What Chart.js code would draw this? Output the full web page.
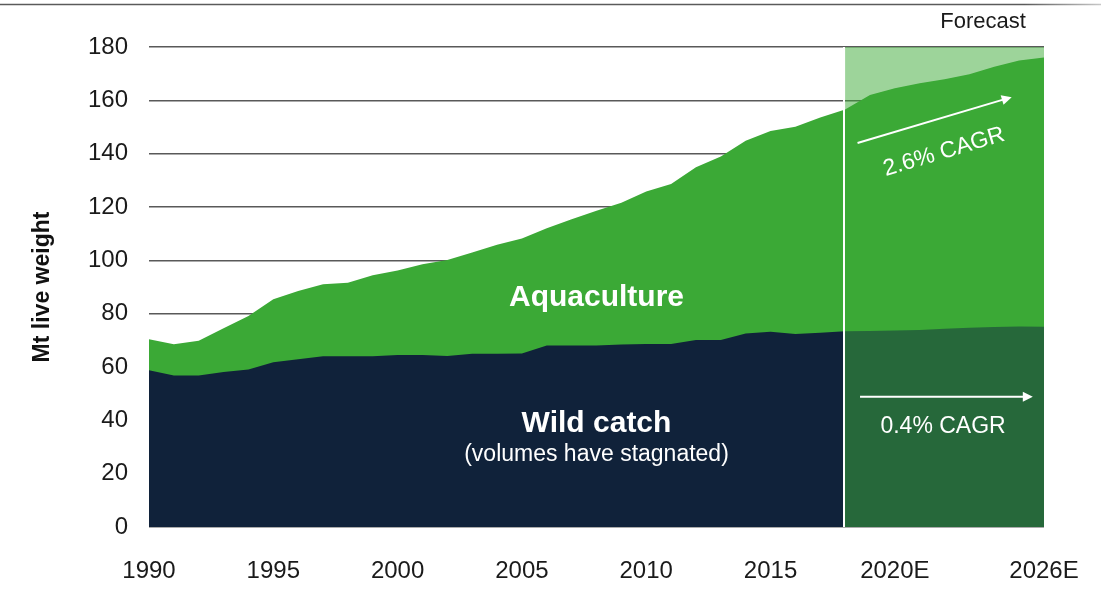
<!DOCTYPE html>
<html>
<head>
<meta charset="utf-8">
<script src="https://cdn.jsdelivr.net/npm/chart.js@4.4.1/dist/chart.umd.min.js"></script>
<style>
  html, body { margin: 0; padding: 0; background: #fff; }
</style>
</head>
<body>
<canvas id="fishChart" width="1101" height="591"></canvas>
<script>
// Global fish supply, Mt live weight
const years = [
  1990, 1991, 1992, 1993, 1994, 1995, 1996, 1997, 1998, 1999,
  2000, 2001, 2002, 2003, 2004, 2005, 2006, 2007, 2008, 2009,
  2010, 2011, 2012, 2013, 2014, 2015, 2016, 2017, 2018, 2019,
  2020, 2021, 2022, 2023, 2024, 2025, 2026
];
const wildCatch = [
  58.8, 56.8, 56.8, 58.1, 59.1, 61.8, 62.9, 64.0, 64.0, 64.0,
  64.5, 64.5, 64.1, 65.0, 65.0, 65.1, 68.1, 68.1, 68.1, 68.4,
  68.6, 68.6, 70.1, 70.1, 72.6, 73.2, 72.4, 72.8, 73.4, 73.5,
  73.7, 73.9, 74.3, 74.7, 75.0, 75.2, 75.1
];
const aquaculture = [
  11.6, 11.7, 13.0, 16.4, 20.0, 23.6, 25.6, 27.0, 27.6, 30.4,
  31.7, 34.0, 36.0, 37.9, 40.8, 43.1, 43.9, 47.3, 50.5, 53.2,
  57.2, 60.0, 64.8, 68.8, 72.2, 75.3, 77.7, 80.8, 83.2, 88.5,
  90.8, 92.5, 93.6, 95.1, 97.6, 99.7, 101.0
];
const forecastStart = 2018;
const xTickValues = [1990, 1995, 2000, 2005, 2010, 2015, 2020, 2026];
const xTickLabels = ['1990', '1995', '2000', '2005', '2010', '2015', '2020E', '2026E'];
const yMin = 0, yMax = 180, yStep = 20;

const FONT = "'Liberation Sans', Arial, sans-serif";
const NAVY = '#10223a';
const GREEN = '#3ba936';
const DARK_GREEN = '#26683a';
const PALE_GREEN = 'rgba(59, 169, 54, 0.5)';

const totals = wildCatch.map((w, i) => +(w + aquaculture[i]).toFixed(1));
const points = (arr, keep) => years.map((yr, i) => ({ x: yr, y: arr[i] })).filter(p => keep(p.x));
const isHist = yr => yr <= forecastStart;
const isForecast = yr => yr >= forecastStart;

const area = (label, data, color, order) => ({
  label, data, order,
  backgroundColor: color,
  borderWidth: 0,
  pointRadius: 0,
  tension: 0,
  fill: 'origin'
});

function arrow(ctx, x1, y1, x2, y2) {
  const ang = Math.atan2(y2 - y1, x2 - x1);
  const head = 10;
  ctx.beginPath();
  ctx.moveTo(x1, y1);
  ctx.lineTo(x2 - head * 0.8 * Math.cos(ang), y2 - head * 0.8 * Math.sin(ang));
  ctx.stroke();
  ctx.beginPath();
  ctx.moveTo(x2, y2);
  ctx.lineTo(x2 - head * Math.cos(ang) + 5 * Math.sin(ang), y2 - head * Math.sin(ang) - 5 * Math.cos(ang));
  ctx.lineTo(x2 - head * Math.cos(ang) - 5 * Math.sin(ang), y2 - head * Math.sin(ang) + 5 * Math.cos(ang));
  ctx.closePath();
  ctx.fill();
}

const decorations = {
  id: 'decorations',
  beforeDraw(chart) {
    const { ctx, width } = chart;
    ctx.save();
    const g = ctx.createLinearGradient(0, 0, width, 0);
    g.addColorStop(0, '#5a5a5a');
    g.addColorStop(0.93, '#5a5a5a');
    g.addColorStop(1, '#c8c8c8');
    ctx.strokeStyle = g;
    ctx.lineWidth = 1.5;
    ctx.beginPath();
    ctx.moveTo(0, 4.5);
    ctx.lineTo(width, 4.5);
    ctx.stroke();
    ctx.restore();
  },
  afterDatasetsDraw(chart) {
    const { ctx, chartArea, scales: { x, y } } = chart;
    const px = v => x.getPixelForValue(v);
    const py = v => y.getPixelForValue(v);
    ctx.save();

    // forecast divider
    const xf = Math.round(px(forecastStart)) - 1;
    ctx.strokeStyle = '#ffffff';
    ctx.fillStyle = '#ffffff';
    ctx.lineWidth = 2;
    ctx.beginPath();
    ctx.moveTo(xf, chartArea.top);
    ctx.lineTo(xf, chartArea.bottom);
    ctx.stroke();

    // growth arrows
    const a1 = [px(2018.5), py(144), px(2024.7), py(161.2)];
    arrow(ctx, ...a1);
    arrow(ctx, px(2018.6), py(48.8), px(2025.55), py(48.8));

    ctx.textAlign = 'center';
    ctx.textBaseline = 'middle';

    ctx.font = `bold 30px ${FONT}`;
    ctx.fillText('Aquaculture', px(2008), py(86));
    ctx.fillText('Wild catch', px(2008), py(38.6));
    ctx.font = `23px ${FONT}`;
    ctx.fillText('(volumes have stagnated)', px(2008), py(27));
    ctx.fillText('0.4% CAGR', px(2021.94), py(37.5));

    ctx.save();
    ctx.translate(px(2021.98), py(140.6));
    ctx.rotate(Math.atan2(a1[3] - a1[1], a1[2] - a1[0]));
    ctx.fillText('2.6% CAGR', 0, 0);
    ctx.restore();

    ctx.fillStyle = '#1a1a1a';
    ctx.font = `22px ${FONT}`;
    ctx.fillText('Forecast', px(2026) - 61, chartArea.top - 25);
    ctx.restore();
  }
};

new Chart(document.getElementById('fishChart'), {
  type: 'line',
  data: {
    datasets: [
      area('Wild catch (forecast)', points(wildCatch, isForecast), DARK_GREEN, 1),
      area('Wild catch', points(wildCatch, isHist), NAVY, 2),
      area('Aquaculture', points(totals, () => true), GREEN, 3),
      area('Forecast range', points(years.map(() => yMax), isForecast), PALE_GREEN, 4)
    ]
  },
  options: {
    responsive: false,
    animation: false,
    layout: { padding: { top: 47, right: 57, left: 0, bottom: 0 } },
    plugins: {
      legend: { display: false },
      tooltip: { enabled: false }
    },
    scales: {
      x: {
        type: 'linear',
        min: years[0],
        max: years[years.length - 1],
        afterBuildTicks(scale) { scale.ticks = xTickValues.map(v => ({ value: v })); },
        afterFit(scale) {
          scale.height = 64;
          scale.paddingLeft = 0;
          scale.paddingRight = 0;
        },
        ticks: {
          callback: (v, i) => xTickLabels[i],
          autoSkip: false,
          maxRotation: 0,
          padding: 30,
          color: '#1a1a1a',
          font: { family: FONT, size: 24 }
        },
        grid: { display: false, drawTicks: false },
        border: { display: false }
      },
      y: {
        min: yMin,
        max: yMax,
        afterFit(scale) {
          scale.width = 149;
          scale.paddingTop = 0;
          scale.paddingBottom = 0;
        },
        ticks: {
          stepSize: yStep,
          padding: 21,
          color: '#1a1a1a',
          font: { family: FONT, size: 24 }
        },
        grid: { color: '#595959', lineWidth: 1.5, drawTicks: false },
        border: { display: false },
        title: {
          display: true,
          text: 'Mt live weight',
          color: '#111',
          padding: { top: 29, bottom: 0 },
          font: { family: FONT, size: 23, weight: 'bold' }
        }
      }
    }
  },
  plugins: [decorations]
});
</script>
</body>
</html>
